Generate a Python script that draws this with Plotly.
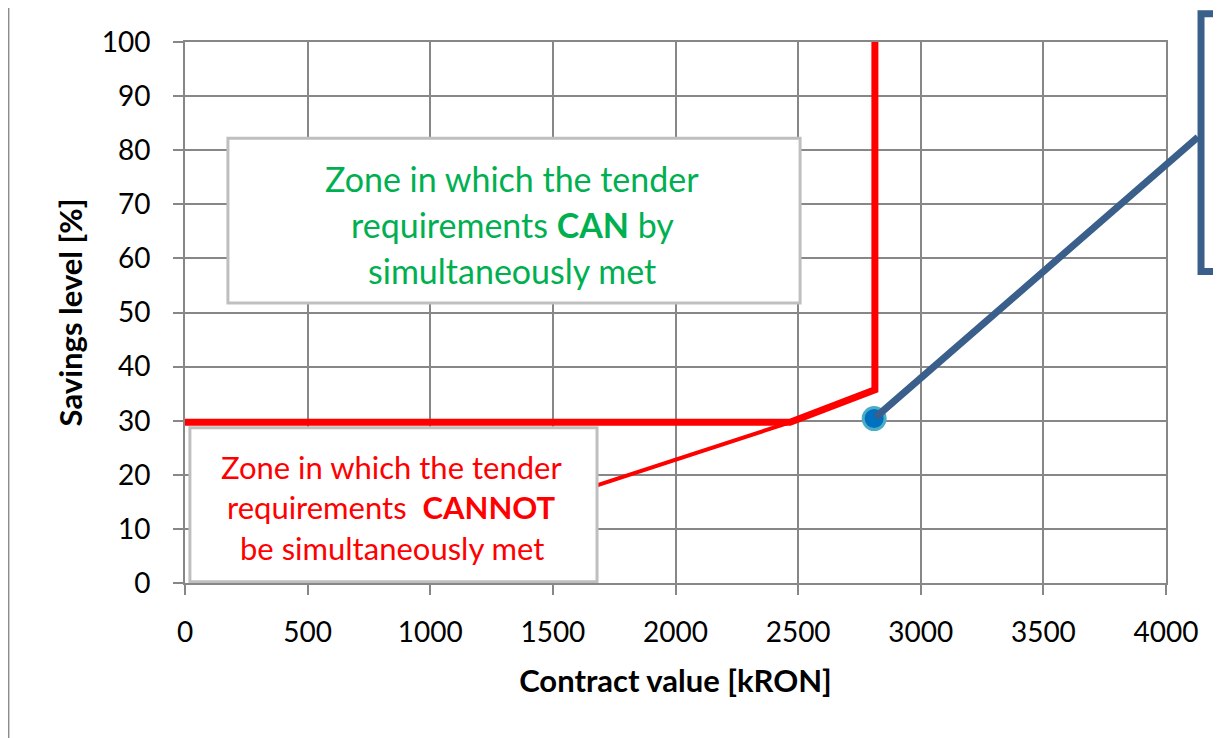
import plotly.graph_objects as go

# ---- data ----
x_tick_vals = [0, 500, 1000, 1500, 2000, 2500, 3000, 3500, 4000]
y_tick_vals = [0, 10, 20, 30, 40, 50, 60, 70, 80, 90, 100]

boundary_x = [0, 2467, 2813, 2813]          # thick red boundary
boundary_y = [29.7, 29.7, 35.7, 100]

thin_x = [1000, 2467]                        # thin red line (partly hidden by box)
thin_y = [8.0, 29.7]

point_x = [2810]                             # blue point
point_y = [30.4]

callout_end_x = 4130                         # blue connector end (to callout box)
callout_end_y = 82.4

green_lines = ["Zone in which the tender", "requirements <b>CAN</b> by", "simultaneously met"]
green_line_y = [74.8, 66.2, 57.8]
green_x = 1335
green_box = dict(x0=175, x1=2508, y0=51.75, y1=82.2)

red_lines = ["Zone in which the tender", "requirements  <b>CANNOT</b>", "be simultaneously met"]
red_line_y = [21.5, 14.1, 6.5]
red_x = 842
red_box = dict(x0=20, x1=1680, y0=0.25, y1=28.7)

FONT = "Lato"
GRID = "#878787"

fig = go.Figure()

fig.add_trace(go.Scatter(x=thin_x, y=thin_y, mode="lines",
                         line=dict(color="#FF0000", width=4), showlegend=False, hoverinfo="skip"))
fig.add_trace(go.Scatter(x=boundary_x, y=boundary_y, mode="lines",
                         line=dict(color="#FF0000", width=7), showlegend=False, hoverinfo="skip"))
fig.add_trace(go.Scatter(x=point_x, y=point_y, mode="markers",
                         marker=dict(size=22, color="#0070C0", line=dict(color="#4BACC6", width=3)),
                         showlegend=False, cliponaxis=False))

# boxes
for b in (green_box, red_box):
    fig.add_shape(type="rect", xref="x", yref="y", x0=b["x0"], x1=b["x1"], y0=b["y0"], y1=b["y1"],
                  line=dict(color="#BFBFBF", width=3), fillcolor="white", layer="above")

for txt, yy in zip(green_lines, green_line_y):
    fig.add_annotation(x=green_x, y=yy, xref="x", yref="y", text=txt, showarrow=False,
                       font=dict(family=FONT, size=34, color="#00B050"))
for txt, yy in zip(red_lines, red_line_y):
    fig.add_annotation(x=red_x, y=yy, xref="x", yref="y", text=txt, showarrow=False,
                       font=dict(family=FONT, size=31, color="#FF0000"))

# blue connector line from the point to the callout box
fig.add_annotation(x=callout_end_x, y=callout_end_y, xref="x", yref="y",
                   ax=point_x[0], ay=point_y[0], axref="x", ayref="y",
                   text="", showarrow=True, arrowhead=0, arrowwidth=7, arrowcolor="#3A5F8B",
                   standoff=0, startstandoff=0)

# callout box (cut off on the right) and outer chart border
fig.add_shape(type="rect", xref="paper", yref="paper", x0=1.0357, x1=1.12, y0=0.5757, y1=1.0521,
              line=dict(color="#3A5F8B", width=7), fillcolor="rgba(0,0,0,0)", layer="above")
fig.add_shape(type="rect", xref="paper", yref="paper", x0=-0.18, x1=1.25, y0=-0.6, y1=1.0668,
              line=dict(color="#8C8C8C", width=2), fillcolor="rgba(0,0,0,0)", layer="below")

axis_common = dict(showgrid=True, gridcolor=GRID, gridwidth=2, showline=True, linecolor=GRID,
                   linewidth=2, mirror=True, ticks="outside", ticklen=10, tickwidth=2, tickcolor=GRID,
                   zeroline=False, tickfont=dict(family=FONT, size=28, color="black"))

fig.update_xaxes(range=[0, 4000], tickvals=x_tick_vals, ticklabelstandoff=13,
                 title=dict(text="<b>Contract value [kRON]</b>", font=dict(family=FONT, size=31, color="black"),
                            standoff=24), **axis_common)
fig.update_yaxes(range=[0, 100], tickvals=y_tick_vals, ticklabelstandoff=17,
                 title=dict(text="<b>Savings level [%]</b>", font=dict(family=FONT, size=31, color="black"),
                            standoff=10), **axis_common)

fig.update_layout(width=1221, height=738, margin=dict(l=177, r=63, t=34, b=163),
                  plot_bgcolor="white", paper_bgcolor="white", showlegend=False)

fig.write_html("out.html")
